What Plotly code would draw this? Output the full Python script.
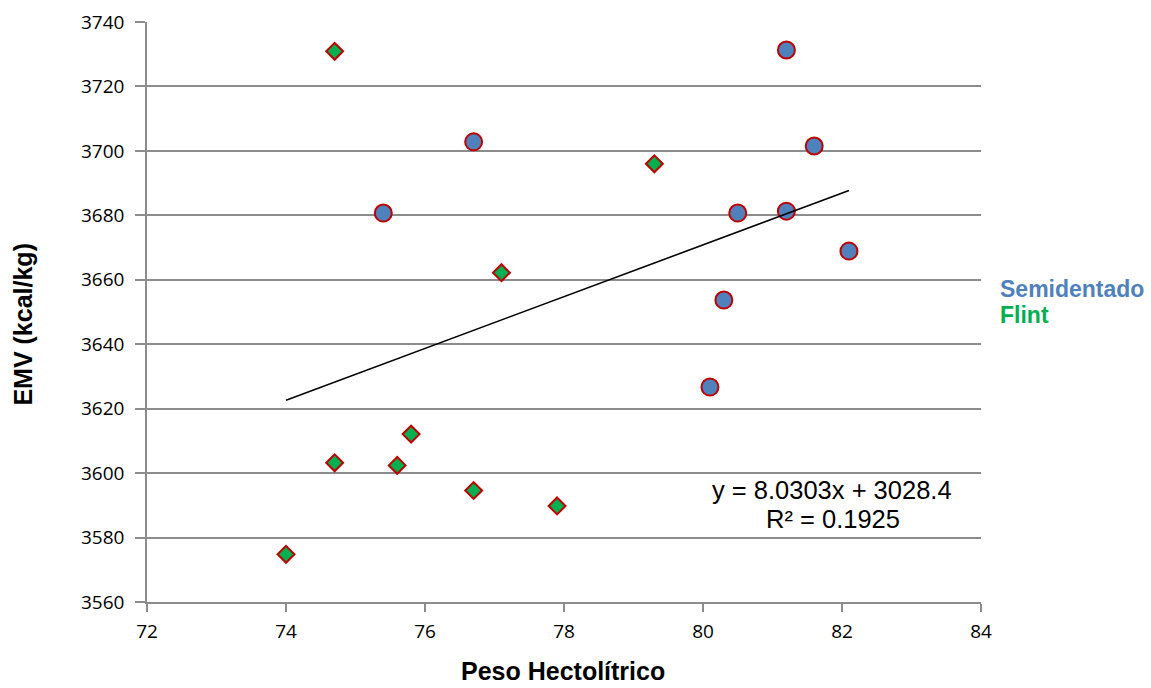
import plotly.graph_objects as go

# Data
semi_x = [81.2, 76.7, 81.6, 75.4, 80.5, 81.2, 82.1, 80.3, 80.1]
semi_y = [3731.3, 3702.8, 3701.5, 3680.7, 3680.7, 3681.3, 3668.9, 3653.7, 3626.7]
flint_x = [74.7, 77.1, 79.3, 74.0, 74.7, 75.6, 75.8, 76.7, 77.9]
flint_y = [3730.9, 3662.2, 3696.0, 3574.8, 3603.2, 3602.4, 3612.1, 3594.6, 3589.8]

# Linear trendline (as printed on the chart)
slope = 8.0303
intercept = 3028.4
r_squared = 0.1925

x_ticks = [72, 74, 76, 78, 80, 82, 84]
y_ticks = [3560, 3580, 3600, 3620, 3640, 3660, 3680, 3700, 3720, 3740]

all_x = semi_x + flint_x
trend_x = [min(all_x), max(all_x)]
trend_y = [slope * v + intercept for v in trend_x]

GRID = "#8C8C8C"
BLUE = "#4F81BD"
GREEN = "#00B050"
RED = "#C00000"
TICKFONT = dict(family="'Open Sans', sans-serif", size=19, color="#000000")
BOLD = "Liberation Sans, Arial, sans-serif"

fig = go.Figure()
fig.add_trace(go.Scatter(
    x=semi_x, y=semi_y, mode="markers", name="Semidentado",
    marker=dict(symbol="circle", size=17, color=BLUE, line=dict(color=RED, width=2)),
))
fig.add_trace(go.Scatter(
    x=flint_x, y=flint_y, mode="markers", name="Flint",
    marker=dict(symbol="diamond", size=13, color=GREEN, line=dict(color=RED, width=2)),
))
fig.add_trace(go.Scatter(
    x=trend_x, y=trend_y, mode="lines", name="Linear",
    line=dict(color="#000000", width=1.6),
))

fig.update_layout(
    width=1151, height=688,
    margin=dict(l=147, r=170, t=22, b=86),
    paper_bgcolor="white", plot_bgcolor="white",
    showlegend=False,
    xaxis=dict(
        range=[72, 84], tickvals=x_ticks, ticktext=[str(v) for v in x_ticks],
        showgrid=False, zeroline=False, automargin=False,
        showline=True, linecolor=GRID, linewidth=1.5,
        ticks="outside", ticklen=8, tickwidth=1.5, tickcolor=GRID,
        tickfont=TICKFONT, ticklabelstandoff=3,
    ),
    yaxis=dict(
        range=[3560, 3740], tickvals=y_ticks, ticktext=[str(v) for v in y_ticks],
        showgrid=True, gridcolor=GRID, gridwidth=1.5, zeroline=False, automargin=False,
        showline=True, linecolor=GRID, linewidth=1.5,
        ticks="outside", ticklen=10, tickwidth=1.5, tickcolor=GRID,
        tickfont=TICKFONT, ticklabelstandoff=7,
    ),
    annotations=[
        dict(text="<b>EMV (kcal/kg)</b>", textangle=-90, xref="paper", yref="paper",
             x=-0.1487, y=0.480, xanchor="center", yanchor="middle", showarrow=False,
             font=dict(family=BOLD, size=25, color="#000000")),
        dict(text="<b>Peso Hectolítrico</b>", xref="paper", yref="paper",
             x=0.4988, y=-0.119, xanchor="center", yanchor="middle", showarrow=False,
             font=dict(family=BOLD, size=25, color="#000000")),
        dict(text=f"y = {slope}x + {intercept}", xref="paper", yref="paper",
             x=(832 - 147) / 834, y=(602 - 490) / 580, xanchor="center", yanchor="middle",
             showarrow=False, font=dict(family="Liberation Sans, Arial", size=25.5, color="#000000")),
        dict(text=f"R² = {r_squared}", xref="paper", yref="paper",
             x=(833 - 147) / 834, y=(602 - 519) / 580, xanchor="center", yanchor="middle",
             showarrow=False, font=dict(family="Liberation Sans, Arial", size=25.5, color="#000000")),
        dict(text="<b>Semidentado</b>", xref="paper", yref="paper",
             x=(998 - 147) / 834, y=(602 - 289) / 580, xanchor="left", yanchor="middle",
             showarrow=False, font=dict(family=BOLD, size=23, color=BLUE)),
        dict(text="<b>Flint</b>", xref="paper", yref="paper",
             x=(998 - 147) / 834, y=(602 - 315) / 580, xanchor="left", yanchor="middle",
             showarrow=False, font=dict(family=BOLD, size=23, color=GREEN)),
    ],
)

fig.write_html("out.html")
